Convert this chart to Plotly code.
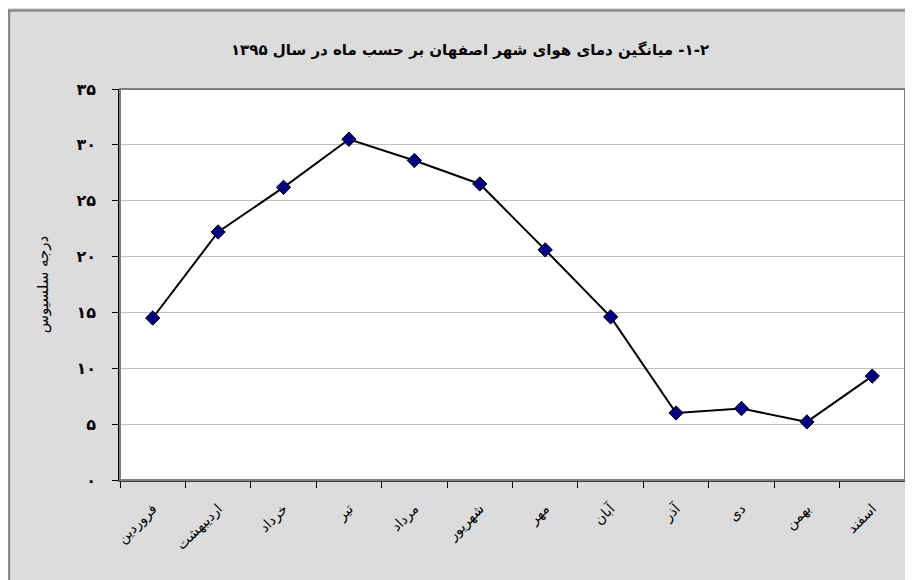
import plotly.graph_objects as go

months = ["فروردین", "اردیبهشت", "خرداد", "تیر", "مرداد", "شهریور",
          "مهر", "آبان", "آذر", "دی", "بهمن", "اسفند"]
temps = [14.5, 22.2, 26.2, 30.5, 28.6, 26.5, 20.6, 14.6, 6.0, 6.4, 5.2, 9.3]
y_tickvals = [0, 5, 10, 15, 20, 25, 30, 35]
y_ticktext = ["۰", "۵", "۱۰", "۱۵", "۲۰", "۲۵", "۳۰", "۳۵"]
title_text = "\u202B۲\u200F-\u200F۱\u200F- میانگین دمای هوای شهر اصفهان بر حسب ماه در سال ۱۳۹۵\u202C"
y_title = "درجه سلسیوس"

FONT = "DejaVu Sans"
W, H = 905, 572
L, R, T, B = 112, 8, 81, 100
pw, ph = W - L - R, H - T - B

def px_x(p):
    return (p - L) / pw

def px_y(p):
    return (H - B - p) / ph

fig = go.Figure()
fig.add_trace(go.Scatter(
    x=months, y=temps, mode="lines+markers",
    line=dict(color="black", width=2),
    marker=dict(symbol="diamond", size=11, color="#000080",
                line=dict(color="black", width=1)),
    showlegend=False, cliponaxis=False,
))

shapes = [
    # outer border (left and top edges)
    dict(type="line", xref="paper", yref="paper", x0=px_x(1), x1=px_x(1), y0=px_y(H + 5), y1=px_y(2),
         line=dict(color="#8a8a8a", width=2.5), layer="below"),
    dict(type="line", xref="paper", yref="paper", x0=px_x(0), x1=px_x(W + 5), y0=px_y(2.5), y1=px_y(2.5),
         line=dict(color="#8a8a8a", width=2.5), layer="below"),
    # plot area border
    dict(type="rect", xref="paper", yref="paper", x0=0, x1=1, y0=0, y1=1,
         fillcolor="rgba(0,0,0,0)", line=dict(color="#7f7f7f", width=2), layer="above"),
]

fig.update_layout(
    width=W, height=H,
    margin=dict(l=L, r=R, t=T, b=B),
    paper_bgcolor="#dcdcdc",
    plot_bgcolor="white",
    font=dict(family=FONT, color="black"),
    title=dict(text=title_text, x=462 / W, xanchor="center", y=1 - 42 / H, yanchor="middle",
               font=dict(family=FONT, size=15, color="black", weight="bold")),
    shapes=shapes,
)

fig.update_xaxes(
    type="category", tickangle=-45, tickson="boundaries",
    ticks="outside", ticklen=6, tickcolor="black", tickwidth=1,
    showline=True, linecolor="#404040", linewidth=2,
    showgrid=False, ticklabelstandoff=13,
    tickfont=dict(family=FONT, size=14, color="black"),
    range=[-0.5, 11.5],
)
fig.update_yaxes(
    range=[0, 35], tickvals=y_tickvals, ticktext=y_ticktext,
    ticks="outside", ticklen=6, tickcolor="black", tickwidth=1,
    showline=True, linecolor="black", linewidth=1.5,
    showgrid=True, gridcolor="#c0c0c0", gridwidth=1,
    zeroline=False, ticklabelstandoff=13,
    tickfont=dict(family=FONT, size=16, color="black", weight="bold"),
    title=dict(text=y_title, standoff=24, font=dict(family=FONT, size=15, color="black")),
)

fig.write_html("out.html")
